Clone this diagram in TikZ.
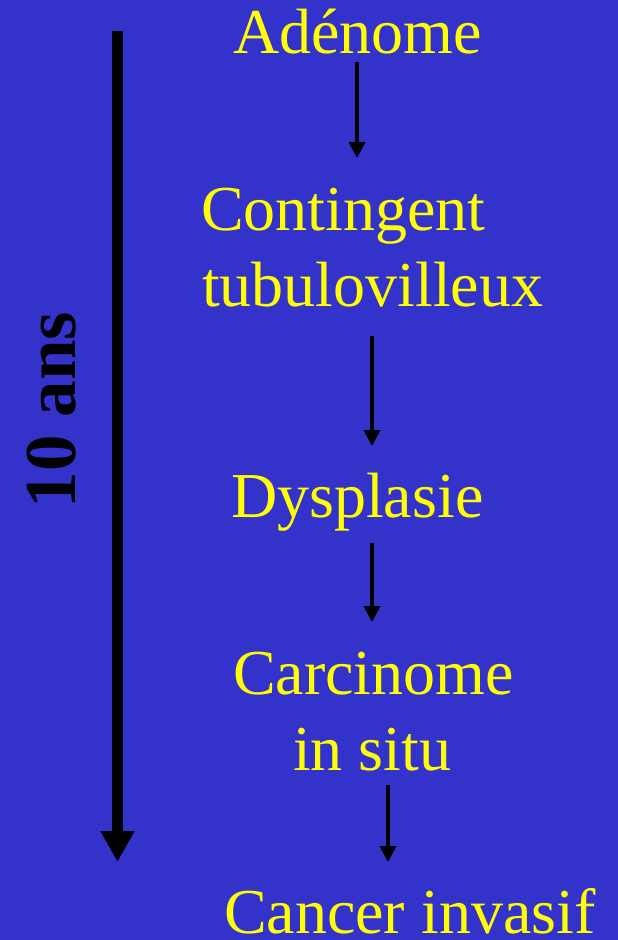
\documentclass[tikz,border=0pt]{standalone}
\usepackage{fontspec}
\setmainfont{Liberation Serif}
\usetikzlibrary{arrows.meta}
\definecolor{bgblue}{RGB}{51,51,204}
\definecolor{txtyellow}{RGB}{255,255,0}
\begin{document}
\begin{tikzpicture}[x=1pt,y=-1pt,
  lbl/.style={anchor=base west,inner sep=0pt,outer sep=0pt,text=txtyellow,
    font=\fontsize{64}{74}\selectfont},
  smallarrow/.style={draw=black,line width=4.5pt,-{Triangle[width=16pt,length=16pt]}},
  bigarrow/.style={draw=black,line width=11pt,-{Triangle[width=32pt,length=31pt]}}]
\fill[bgblue] (0,0) rectangle (618,940);
\useasboundingbox (0,0) rectangle (618,940);
% labels
\node[lbl] (adenome) at (233,53) {Adénome};
\node[lbl] (conting) at (201,230) {Contingent};
\node[lbl] (tubulo) at (202,306) {tubulovilleux};
\node[lbl] (dysp) at (231,517) {Dysplasie};
\node[lbl] (carci) at (233,694) {Carcinome};
\node[lbl] (insitu) at (293,770) {in situ};
\node[lbl] (cancer) at (224,933) {Cancer invasif};
% years
\node[anchor=center,inner sep=0pt,rotate=90,text=black,
  font=\fontsize{73}{80}\bfseries\selectfont] (ans) at (52,410) {10 ans};
% arrow end points
\coordinate (a1s) at (357,62);  \coordinate (a1e) at (357,158);
\coordinate (a2s) at (372,336); \coordinate (a2e) at (372,446);
\coordinate (a3s) at (372,543); \coordinate (a3e) at (372,622);
\coordinate (a4s) at (388,785); \coordinate (a4e) at (388,862);
\coordinate (bs) at (117.5,31); \coordinate (be) at (117.5,862);
\draw[smallarrow] (a1s) -- (a1e);
\draw[smallarrow] (a2s) -- (a2e);
\draw[smallarrow] (a3s) -- (a3e);
\draw[smallarrow] (a4s) -- (a4e);
\draw[bigarrow] (bs) -- (be);
\end{tikzpicture}
\end{document}
